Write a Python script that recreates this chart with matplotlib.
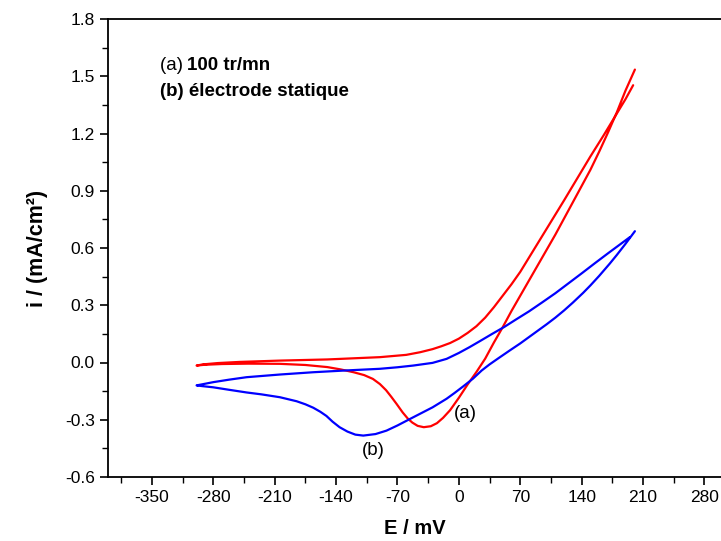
import matplotlib
matplotlib.use("Agg")
import matplotlib.pyplot as plt
from matplotlib.ticker import MultipleLocator, FormatStrFormatter

plt.rcParams['font.family'] = ['Liberation Sans', 'DejaVu Sans']
plt.rcParams['axes.unicode_minus'] = False

# Curve (a) 100 tr/mn (red): lower branch from vertex to -300 mV, then upper branch back to vertex
red_E = [200.7, 190, 180, 170, 160, 150, 140, 130, 120, 110, 100, 90, 80, 70, 60, 50, 40, 30, 20, 10,
         0, -10, -18, -25, -32, -40, -47, -53, -58, -64, -71, -77, -83, -90, -98, -108, -120, -135,
         -150, -175, -204, -240, -270, -290, -299,
         -292, -275, -250, -204, -150, -90, -60, -44, -30, -20, -10, 0, 10, 20, 30, 40, 50, 60, 70,
         80, 90, 100, 110, 120, 135, 150, 165, 180, 190, 198.7]
red_i = [1.535, 1.425, 1.31, 1.205, 1.105, 1.01, 0.925, 0.84, 0.755, 0.67, 0.59, 0.51, 0.43, 0.35,
         0.27, 0.185, 0.105, 0.02, -0.05, -0.115, -0.185, -0.25, -0.29, -0.318, -0.334, -0.339,
         -0.332, -0.315, -0.295, -0.262, -0.217, -0.18, -0.145, -0.113, -0.086, -0.066, -0.051,
         -0.036, -0.024, -0.013, -0.007, -0.006, -0.008, -0.012, -0.016,
         -0.01, -0.003, 0.003, 0.01, 0.016, 0.028, 0.04, 0.054, 0.07, 0.085, 0.102, 0.125, 0.155,
         0.19, 0.235, 0.29, 0.35, 0.41, 0.475, 0.55, 0.625, 0.70, 0.775, 0.85, 0.965, 1.08, 1.19,
         1.304, 1.38, 1.453]

# Curve (b) electrode statique (blue)
blue_E = [200.7, 190, 180, 172, 160, 150, 141.7, 130, 120, 110, 100, 85, 70, 58, 45, 35, 26, 16, 5,
          -5, -14, -30, -52, -70, -82.5, -95, -109, -118, -127, -136, -144, -151, -158, -166, -175,
          -185, -204, -225, -242, -262, -280, -292, -299,
          -290, -280, -262, -242, -204, -166, -130, -90, -70, -52, -30, -14, 0, 12, 24, 38, 52, 65,
          80, 95, 110, 125, 140, 155, 170, 185, 195]
blue_i = [0.688, 0.622, 0.563, 0.518, 0.454, 0.404, 0.365, 0.314, 0.273, 0.235, 0.2, 0.15, 0.1, 0.063,
          0.022, -0.01, -0.042, -0.085, -0.125, -0.16, -0.19, -0.235, -0.287, -0.33, -0.357, -0.375,
          -0.383, -0.378, -0.362, -0.339, -0.31, -0.28, -0.258, -0.237, -0.219, -0.203, -0.182,
          -0.167, -0.157, -0.143, -0.13, -0.124, -0.12,
          -0.112, -0.103, -0.09, -0.077, -0.063, -0.051, -0.042, -0.033, -0.025, -0.016, -0.002,
          0.019, 0.05, 0.08, 0.112, 0.15, 0.187, 0.225, 0.268, 0.315, 0.363, 0.415, 0.467, 0.52,
          0.572, 0.623, 0.657]

xticks = [-350, -280, -210, -140, -70, 0, 70, 140, 210, 280]
yticks = [-0.6, -0.3, 0.0, 0.3, 0.6, 0.9, 1.2, 1.5, 1.8]

fig = plt.figure(figsize=(7.21, 5.41), dpi=100)
ax = fig.add_axes([108/721, 1 - 477/541, 614/721, (477 - 19)/541])

ax.plot(red_E, red_i, color='#ff0000', lw=1.6, solid_capstyle='round', solid_joinstyle='round')
ax.plot(blue_E, blue_i, color='#0000ff', lw=1.6, solid_capstyle='round', solid_joinstyle='round')

ax.set_xlim(-400, 300)
ax.set_ylim(-0.6, 1.8)
ax.set_xticks(xticks)
ax.set_yticks(yticks)
ax.xaxis.set_minor_locator(MultipleLocator(35))
ax.yaxis.set_minor_locator(MultipleLocator(0.15))
ax.yaxis.set_major_formatter(FormatStrFormatter('%.1f'))
ax.tick_params(which='major', direction='out', length=6, width=1.2, labelsize=12.5)
ax.tick_params(which='minor', direction='out', length=4, width=1.0)
for s in ax.spines.values():
    s.set_linewidth(1.3)

ax.set_xlabel('E / mV', fontsize=14.5, fontweight='bold', labelpad=10)
ax.set_ylabel('i / (mA/cm²)', fontsize=15.5, fontweight='bold', labelpad=12)

ax.text(160/721, 1 - 66/541, '(a) ', transform=fig.transFigure, fontsize=13.5, va='center', ha='left')
ax.text(187/721, 1 - 66/541, '100 tr/mn', transform=fig.transFigure, fontsize=13.5, va='center',
        ha='left', fontweight='bold')
ax.text(160/721, 1 - 91/541, '(b) électrode statique', transform=fig.transFigure, fontsize=13.5,
        va='center', ha='left', fontweight='bold')

ax.text(7, -0.265, '(a)', fontsize=13.5, ha='center', va='center')
ax.text(-98, -0.46, '(b)', fontsize=13.5, ha='center', va='center')

fig.savefig('out.png', dpi=100)
